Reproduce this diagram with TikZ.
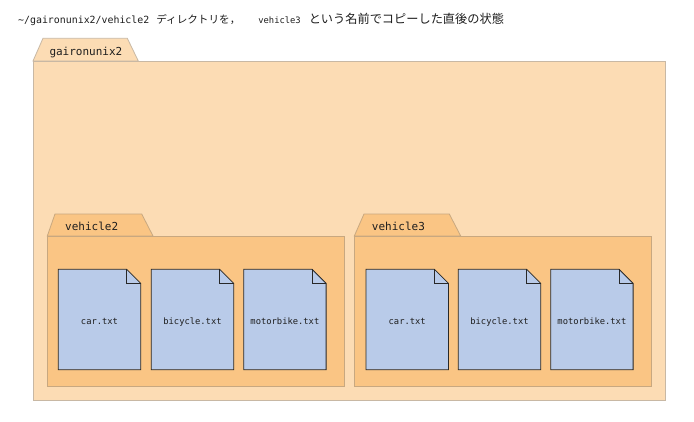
\documentclass[tikz,border=0pt]{standalone}
\usepackage{fontspec}
\setmonofont{DejaVu Sans Mono}
\newfontfamily\jpfont{Noto Sans CJK JP}
\pgfdeclarelayer{layW}
\pgfdeclarelayer{layA}
\pgfdeclarelayer{layB}
\pgfdeclarelayer{layC}
\pgfsetlayers{layW,layA,layB,layC,main}
\definecolor{outerfill}{RGB}{252,220,180}
\definecolor{outerline}{RGB}{200,184,164}
\definecolor{innerfill}{RGB}{250,197,132}
\definecolor{innerline}{RGB}{200,168,128}
\definecolor{filefill}{RGB}{185,203,233}
\definecolor{fileline}{RGB}{40,40,40}
\definecolor{txt}{RGB}{30,30,30}
\tikzset{
  outerbody/.style={rectangle, fill=outerfill, draw=outerline, line width=0.8pt, minimum width=632pt, minimum height=339pt, anchor=north west, inner sep=0pt},
  innerbody/.style={rectangle, fill=innerfill, draw=innerline, line width=0.8pt, minimum width=297pt, minimum height=150pt, anchor=north west, inner sep=0pt},
  outertab/.style={fill=outerfill, draw=outerline, line width=0.8pt},
  innertab/.style={fill=innerfill, draw=innerline, line width=0.8pt},
  folderlabel/.style={anchor=base west, inner sep=0pt, text=txt, font=\ttfamily\fontsize{11}{13}\selectfont},
  filebox/.style={rectangle, minimum width=82pt, minimum height=100pt, anchor=north west, inner sep=0pt, text height=9.4pt, text depth=0pt, text=txt, font=\ttfamily\fontsize{8.8}{10}\selectfont},
  fileshape/.style={fill=filefill, draw=fileline, line width=0.8pt, line join=miter},
}
\newcommand{\dogear}[1]{%
  \begin{pgfonlayer}{layC}
  \path[fileshape] (#1.north west) -- ([xshift=-14pt]#1.north east) -- ([yshift=-14pt]#1.north east) -- (#1.south east) -- (#1.south west) -- cycle;
  \draw[fileline, line width=0.8pt] ([xshift=-14pt]#1.north east) |- ([yshift=-14pt]#1.north east);
  \end{pgfonlayer}}
\begin{document}
\begin{tikzpicture}[x=1pt,y=-1pt]
\begin{pgfonlayer}{layW}
\fill[white] (0,0) rectangle (694,421);
\end{pgfonlayer}
\useasboundingbox (0,0) rectangle (694,421);
% title
\node[anchor=base west, inner sep=0pt, text=txt] (title) at (18,23.5)
  {{\ttfamily\fontsize{9.9}{12}\selectfont \textasciitilde/gaironunix2/vehicle2}\hspace{7pt}{\jpfont\fontsize{10.6}{12}\selectfont ディレクトリを，}\hspace{18pt}{\ttfamily\fontsize{8.8}{12}\selectfont vehicle3}\hspace{8pt}{\jpfont\fontsize{12.2}{13}\selectfont という名前でコピーした直後の状態}};
% outer folder
\begin{pgfonlayer}{layA}
\node[outerbody] (outer) at (33,61) {};
\path[outertab] (outer.north west) -- (43,38.3) -- (127.3,38.3) -- (138.3,61) -- cycle;
\node[outerbody] at (33,61) {};
\end{pgfonlayer}
\node[folderlabel] (outerlbl) at (49.3,55) {gaironunix2};
% vehicle2 folder
\begin{pgfonlayer}{layB}
\node[innerbody] (v2) at (47.3,236) {};
\path[innertab] (v2.north west) -- (55,214) -- (141.7,214) -- (153,236) -- cycle;
\node[innerbody] at (47.3,236) {};
\end{pgfonlayer}
\node[folderlabel] (v2lbl) at (65,230) {vehicle2};
% vehicle3 folder
\begin{pgfonlayer}{layB}
\node[innerbody] (v3) at (354.3,236) {};
\path[innertab] (v3.north west) -- (364,214) -- (449.3,214) -- (460.7,236) -- cycle;
\node[innerbody] at (354.3,236) {};
\end{pgfonlayer}
\node[folderlabel] (v3lbl) at (371.7,230) {vehicle3};
% files
\node[filebox] (a1) at (58.3,269.3) {car.txt};
\node[filebox] (a2) at (151.3,269.3) {bicycle.txt};
\node[filebox] (a3) at (243.7,269.3) {motorbike.txt};
\node[filebox] (b1) at (366,269.3) {car.txt};
\node[filebox] (b2) at (458.3,269.3) {bicycle.txt};
\node[filebox] (b3) at (550.7,269.3) {motorbike.txt};
\dogear{a1}\dogear{a2}\dogear{a3}\dogear{b1}\dogear{b2}\dogear{b3}
\end{tikzpicture}
\end{document}
